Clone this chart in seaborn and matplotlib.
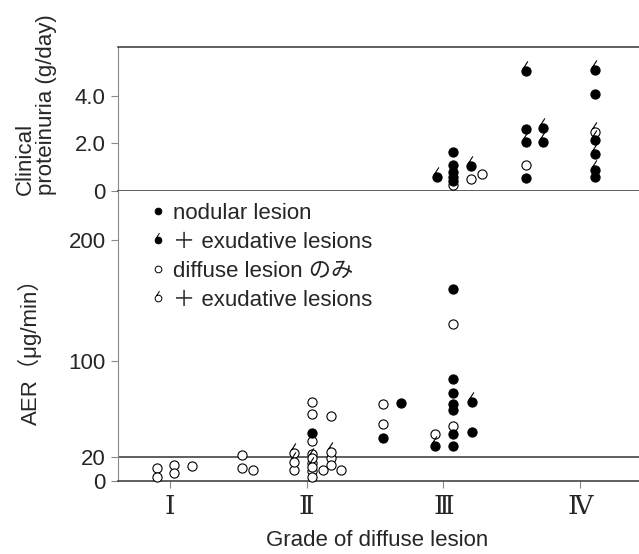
import pandas as pd
import seaborn as sns
import matplotlib.pyplot as plt
from matplotlib.path import Path
from matplotlib.lines import Line2D

# グレード（Ⅰ〜Ⅳ）: 点は各グレードの周りに少しずらして並んでいる
grade_ticks = [1, 2, 3, 4]
grade_labels = ['Ⅰ', 'Ⅱ', 'Ⅲ', 'Ⅳ']

# 上段: Clinical proteinuria (g/day)
prot_nod_x = [3.07, 3.07, 3.07, 3.07, 3.07, 3.60, 3.60, 4.11, 4.11]
prot_nod_y = [1.65, 1.10, 0.80, 0.60, 0.42, 2.60, 0.53, 4.07, 0.60]
prot_nodex_x = [2.95, 3.20, 3.60, 3.60, 3.73, 3.73, 4.11, 4.11, 4.11, 4.11]
prot_nodex_y = [0.60, 1.05, 5.05, 2.05, 2.67, 2.08, 5.09, 2.15, 1.54, 0.88]
prot_dif_x = [3.07, 3.20, 3.28, 3.60]
prot_dif_y = [0.25, 0.49, 0.70, 1.09]
prot_difex_x = [4.11]
prot_difex_y = [2.50]

# 下段: AER (μg/min)
aer_nod_x = [2.04, 2.56, 2.69, 3.07, 3.07, 3.07, 3.07, 3.07, 3.07, 3.07, 3.21]
aer_nod_y = [40, 36, 64.5, 159, 84.4, 72.8, 63.9, 58.9, 38.8, 29.3, 41]
aer_nodex_x = [2.94, 3.21]
aer_nodex_y = [29, 65.3]
aer_dif_x = [0.905, 0.905, 1.03, 1.03, 1.16, 1.53, 1.53, 1.61, 1.91,
             2.04, 2.04, 2.04, 2.04, 2.04, 2.04, 2.04, 2.12, 2.25,
             2.18, 2.18, 2.18, 2.56, 2.56, 2.94, 3.07, 3.07]
aer_dif_y = [10.5, 3.6, 13.3, 6.4, 12.7, 21.6, 10.5, 9.1, 9.1,
             65.8, 55.6, 33.2, 22.4, 15.2, 8.3, 3.6, 9.1, 9.1,
             54.2, 18.8, 13.3, 63.6, 47.3, 39, 130.3, 45.6]
aer_difex_x = [1.91, 1.91, 2.04, 2.04, 2.18]
aer_difex_y = [23, 16, 18.8, 11.9, 24.3]

legend_labels = ['nodular lesion', '＋ exudative lesions',
                 'diffuse lesion のみ', '＋ exudative lesions']

sns.set_style('white')
plt.rcParams['font.family'] = ['Liberation Sans', 'Noto Sans CJK JP']
FS = 16

# 滲出性病変の印: 円の上に短い斜線
flag = Path.make_compound_path(
    Path.unit_circle(),
    Path([(-0.6, 0.8), (0.3, 2.2)], [Path.MOVETO, Path.LINETO]))
FLAG_SCALE = 2.2
d = 6.6  # 円の直径 (pt)

groups = {
    'diffuse': dict(marker='o', color='white', s=d ** 2),
    'diffuse_ex': dict(marker=flag, color='white', s=(FLAG_SCALE * d) ** 2),
    'nodular': dict(marker='o', color='black', s=d ** 2),
    'nodular_ex': dict(marker=flag, color='black', s=(FLAG_SCALE * d) ** 2),
}

prot = pd.concat([
    pd.DataFrame({'x': prot_dif_x, 'y': prot_dif_y, 'g': 'diffuse'}),
    pd.DataFrame({'x': prot_difex_x, 'y': prot_difex_y, 'g': 'diffuse_ex'}),
    pd.DataFrame({'x': prot_nod_x, 'y': prot_nod_y, 'g': 'nodular'}),
    pd.DataFrame({'x': prot_nodex_x, 'y': prot_nodex_y, 'g': 'nodular_ex'}),
])
aer = pd.concat([
    pd.DataFrame({'x': aer_dif_x, 'y': aer_dif_y, 'g': 'diffuse'}),
    pd.DataFrame({'x': aer_difex_x, 'y': aer_difex_y, 'g': 'diffuse_ex'}),
    pd.DataFrame({'x': aer_nod_x, 'y': aer_nod_y, 'g': 'nodular'}),
    pd.DataFrame({'x': aer_nodex_x, 'y': aer_nodex_y, 'g': 'nodular_ex'}),
])

W, H = 639, 554
fig = plt.figure(figsize=(W / 100, H / 100), dpi=100)
left = 118 / W
ax_top = fig.add_axes([left, 1 - 191 / H, 1 - left, (191 - 47) / H])
ax_bot = fig.add_axes([left, 1 - 481 / H, 1 - left, (481 - 191) / H])

for ax, df in [(ax_top, prot), (ax_bot, aer)]:
    for g, kw in groups.items():
        sub = df[df['g'] == g]
        sns.scatterplot(data=sub, x='x', y='y', ax=ax, marker=kw['marker'],
                        color=kw['color'], s=kw['s'], edgecolor='black',
                        linewidth=0.8, clip_on=False, zorder=3, legend=False)
    ax.set_xlim(0.62, 4.43)
    ax.set_xlabel('')
    ax.set_ylabel('')
    for side in ['left', 'right', 'top', 'bottom']:
        ax.spines[side].set_visible(False)
    ax.spines['left'].set_visible(True)
    ax.spines['left'].set_color('#888888')
    ax.spines['left'].set_linewidth(0.8)
    ax.spines['bottom'].set_visible(True)
    ax.spines['bottom'].set_color('#333333')
    ax.spines['bottom'].set_linewidth(1.1)
    ax.tick_params(axis='y', direction='out', length=5, width=0.8,
                   color='#888888', pad=4, labelsize=FS, left=True)

ax_top.spines['top'].set_visible(True)
ax_top.spines['top'].set_color('#333333')
ax_top.spines['top'].set_linewidth(1.1)
ax_top.set_ylim(0, 6.06)
ax_top.set_yticks([0, 2, 4])
ax_top.set_yticklabels(['0', '2.0', '4.0'])
ax_top.set_xticks([])

ax_bot.set_ylim(0, 240.7)
ax_bot.set_yticks([0, 20, 100, 200])
ax_bot.set_yticklabels(['0', '20', '100', '200'])
ax_bot.axhline(20, color='#333333', lw=1.1, zorder=1)
ax_bot.set_xticks(grade_ticks)
ax_bot.set_xticklabels(grade_labels, family=['DejaVu Serif', 'Noto Sans CJK JP'],
                       fontsize=19)
ax_bot.tick_params(axis='x', direction='out', length=5, width=0.8,
                   color='#888888', pad=4, bottom=True)

# 凡例
dl = 4.8
handles = [
    Line2D([], [], ls='none', marker='o', ms=dl, mfc='black', mec='black', mew=0.7),
    Line2D([], [], ls='none', marker=flag, ms=FLAG_SCALE * dl, mfc='black', mec='black', mew=0.7),
    Line2D([], [], ls='none', marker='o', ms=dl, mfc='white', mec='black', mew=0.7),
    Line2D([], [], ls='none', marker=flag, ms=FLAG_SCALE * dl, mfc='white', mec='black', mew=0.7),
]
fig.legend(handles, legend_labels, loc='upper left',
           bbox_to_anchor=(153 / W, 1 - 203 / H), frameon=False,
           fontsize=FS, handlelength=0.45, handletextpad=0.45,
           labelspacing=0.36, borderpad=0, borderaxespad=0)

fig.text(36 / W, 1 - 195 / H, 'Clinical\nproteinuria (g/day)', rotation=90,
         ha='center', va='bottom', multialignment='left', fontsize=FS,
         linespacing=1.0)
fig.text(30 / W, 1 - 346 / H, 'AER（μg/min）', rotation=90,
         ha='center', va='center', fontsize=FS)
fig.text(377 / W, 1 - 540 / H, 'Grade of diffuse lesion',
         ha='center', va='center', fontsize=FS)

fig.savefig('out.png', dpi=100)
